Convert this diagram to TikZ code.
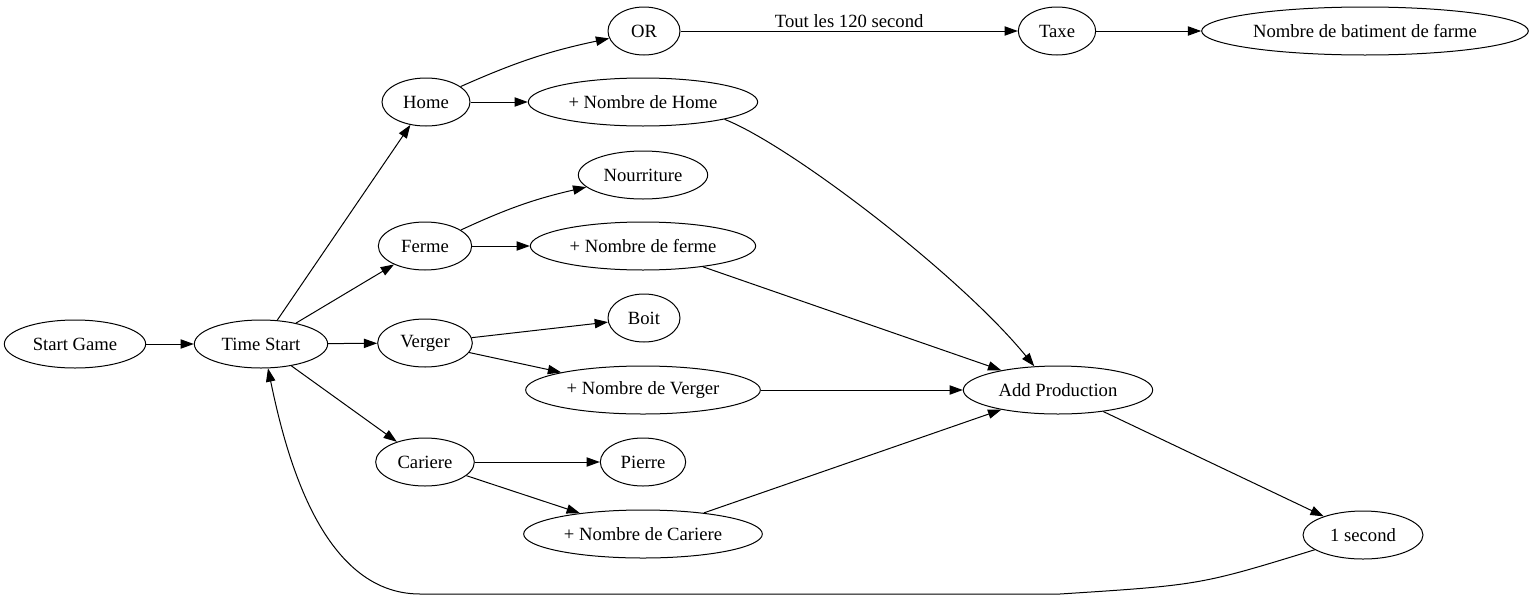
\documentclass[tikz,border=0pt]{standalone}
\usepackage{fontspec}
\setmainfont{Liberation Serif}
\usetikzlibrary{shapes.geometric,arrows.meta}

\tikzset{
  etat/.style={draw, ellipse, line width=0.75pt, minimum height=36pt, inner sep=0pt, font=\fontsize{14}{16}\selectfont},
  fleche/.style={line width=0.75pt, -{Triangle[length=10pt, width=7pt]}}
}

\begin{document}
\begin{tikzpicture}[x=0.75pt, y=-0.75pt]

\useasboundingbox (0,0) rectangle (1531,600);

\node[etat, minimum width=106pt] (start) at (75,344) {Start Game};
\node[etat, minimum width=100pt] (time) at (261,344) {Time Start};

\node[etat, minimum width=66pt] (home) at (426,102) {Home};
\node[etat, minimum width=70pt] (ferme) at (425,246) {Ferme};
\node[etat, minimum width=71pt] (verger) at (425,343) {Verger};
\node[etat, minimum width=74pt] (cariere) at (425,462) {Cariere};

\node[etat, minimum width=54pt] (or) at (644,31) {OR};
\node[etat, minimum width=172pt] (nbhome) at (643,102) {+ Nombre de Home};
\node[etat, minimum width=97pt] (nourriture) at (643,175) {Nourriture};
\node[etat, minimum width=169pt] (nbferme) at (643,246) {+ Nombre de ferme};
\node[etat, minimum width=54pt] (boit) at (644,318) {Boit};
\node[etat, minimum width=176pt] (nbverger) at (643,390) {+ Nombre de Verger};
\node[etat, minimum width=64pt] (pierre) at (643,462) {Pierre};
\node[etat, minimum width=179pt] (nbcariere) at (643,534) {+ Nombre de Cariere};

\node[etat, minimum width=58pt] (taxe) at (1057,31) {Taxe};
\node[etat, minimum width=245pt] (batiment) at (1365,31) {Nombre de batiment de farme};
\node[etat, minimum width=142pt] (prod) at (1058,390) {Add Production};
\node[etat, minimum width=90pt] (seconde) at (1363,535) {1 second};

\draw[fleche] (start) -- (time);
\draw[fleche] (time) -- (home);
\draw[fleche] (time) -- (ferme);
\draw[fleche] (time) -- (verger);
\draw[fleche] (time) -- (cariere);

\draw[fleche] (home) to[bend left=6] (or);
\draw[fleche] (home) -- (nbhome);
\draw[fleche] (ferme) to[bend left=6] (nourriture);
\draw[fleche] (ferme) -- (nbferme);
\draw[fleche] (verger) -- (boit);
\draw[fleche] (verger) -- (nbverger);
\draw[fleche] (cariere) -- (pierre);
\draw[fleche] (cariere) -- (nbcariere);

\draw[fleche] (or) -- node[above=-1pt, font=\fontsize{14}{16}\selectfont] {Tout les 120 second} (taxe);
\draw[fleche] (taxe) -- (batiment);

\draw[fleche] (nbhome.-12) .. controls (790,145) and (960,275) .. (prod.135);
\draw[fleche] (nbferme) -- (prod);
\draw[fleche] (nbverger) -- (prod);
\draw[fleche] (nbcariere) -- (prod);

\draw[fleche] (prod) -- (seconde);

\coordinate (bas1) at (1060,594);
\coordinate (bas2) at (420,594);
\draw[fleche] (seconde.-163) .. controls (1200,585) .. (bas1) -- (bas2) .. controls (320,594) and (285,450) .. (time.-74);

\end{tikzpicture}
\end{document}
